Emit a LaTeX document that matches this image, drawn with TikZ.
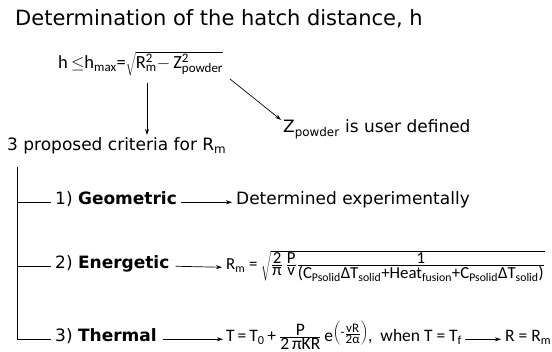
\documentclass[tikz,border=0pt]{standalone}
\usepackage{fontspec}
\setmainfont{DejaVu Sans}
\newfontfamily\eqfont{Carlito}
\usetikzlibrary{arrows.meta,positioning}
\tikzset{
  txt/.style={inner ysep=0pt,inner xsep=4pt,font=\fontsize{17}{20}\selectfont},
  eq/.style={inner sep=0pt,font=\eqfont\fontsize{17.5}{20}\selectfont},
  conn/.style={-{Stealth[length=6pt,width=4pt]},line width=0.7pt},
  tree/.style={line width=0.8pt}
}
\newcommand{\sub}[1]{\textsubscript{#1}}
\newcommand{\supsub}[2]{\rlap{\textsuperscript{#1}}\textsubscript{#2}}
\newcommand{\fr}[2]{$\frac{\hbox{#1}}{\hbox{#2}}$}
\begin{document}
\begin{tikzpicture}[x=1pt,y=-1pt]
  \useasboundingbox[fill=white] (0,0) rectangle (552,352);
  % --- heading and the hatch distance formula ---
  \node[inner sep=0pt,anchor=base west,font=\fontsize{21}{24}\selectfont] (title) at (15,26) {Determination of the hatch distance, h};
  \node[eq,anchor=base west,font=\eqfont\fontsize{18.5}{21}\selectfont] (hform) at (58,69)
    {h\,$\le$h\sub{max}=$\sqrt{\hbox{R\supsub{2}{m}$-$\,Z\supsub{2}{powder}}}$};
  \coordinate (rm) at (147,83);
  \coordinate (zp) at (230,79);
  \node[txt,anchor=base west,inner ysep=3pt] (crit) at (3,151) {3 proposed criteria for R\sub{m}};
  \node[txt,anchor=base west,inner sep=0pt] (zuser) at (283,133) {Z\sub{powder} is user defined};
  \draw[conn] (rm) -- (rm |- crit.north);
  \draw[conn] (zp) -- ([xshift=-2pt]zuser.north west);
  % --- the three criteria ---
  \coordinate (root) at (17,167);
  \node[txt,anchor=base west] (geo) at (51,205) {1) \textbf{Geometric}};
  \node[txt,anchor=base west] (ener) at (51,269) {2) \textbf{Energetic}};
  \node[txt,anchor=base west] (therm) at (51,342) {3) \textbf{Thermal}};
  \draw[tree] (root) |- (therm.mid west);
  \draw[tree] (root |- geo.mid west) -- (geo.mid west);
  \draw[tree] (root |- ener.mid west) -- (ener.mid west);
  \node[txt,anchor=base west] (exper) at (232,205) {Determined experimentally};
  \node[eq,anchor=base west,inner xsep=4pt,font=\eqfont\fontsize{16.8}{20}\selectfont] (rmform) at (222,270)
    {R\sub{m} =\ $\sqrt{\hbox{\fr{2}{π}\,\fr{P}{v}\fr{1}{(C\sub{Psolid}ΔT\sub{solid}+Heat\sub{fusion}+C\sub{Psolid}ΔT\sub{solid})}}}$};
  \node[eq,anchor=base west,inner xsep=3pt] (tform) at (223,342)
    {T\,=\,T\sub{0}\,+\,\fr{P}{2\,πKR}\,e\raisebox{5pt}{$\left(\hbox{\fontsize{13}{13}\selectfont-\fr{vR}{2α}}\right)$},\ \ when T = T\sub{f}};
  \node[eq,anchor=base west,inner xsep=4pt] (rres) at (501,342) {R = R\sub{m}};
  \draw[conn] (geo.mid east) -- (exper.mid west);
  \draw[conn] ([xshift=2pt]ener.mid east) -- (rmform.mid west);
  \draw[conn] ([xshift=2pt]therm.mid east) -- (tform.mid west);
  \draw[conn] (tform.mid east) -- (rres.mid west);
\end{tikzpicture}
\end{document}
